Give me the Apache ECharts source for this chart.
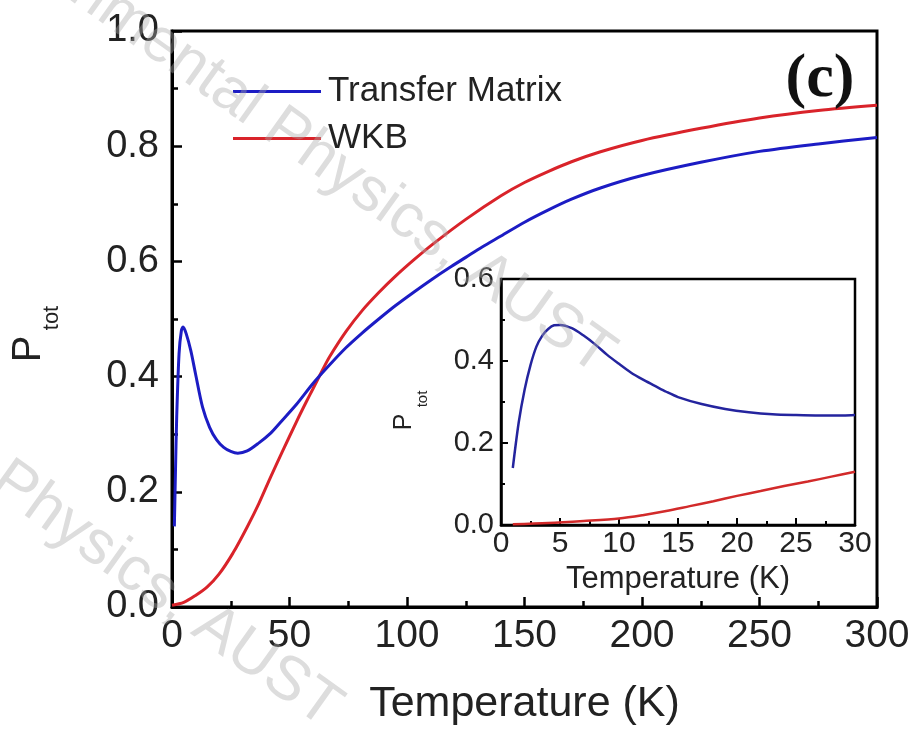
<!DOCTYPE html>
<html>
<head>
<meta charset="utf-8">
<script src="https://cdn.jsdelivr.net/npm/echarts@6/dist/echarts.min.js"></script>
<style>
    html, body { margin: 0; padding: 0; background: #fff; }
    #chart { width: 914px; height: 734px; }
</style>
</head>
<body>
<div id="chart"></div>
<script>
    // main panel, 0 - 300 K
    const tmMainT = [1, 1.5, 2, 3, 4, 4.7, 6, 8, 10, 13, 16, 19, 22, 25, 28, 32, 37, 42, 46, 53, 60, 67, 74, 81, 88, 95, 103, 111, 118, 125, 132, 140, 150, 160, 170, 182, 200, 225, 250, 275, 300];
    const tmMainP = [0.14, 0.24, 0.33, 0.44, 0.48, 0.486, 0.475, 0.445, 0.405, 0.347, 0.312, 0.29, 0.277, 0.27, 0.267, 0.271, 0.285, 0.302, 0.32, 0.352, 0.388, 0.42, 0.45, 0.476, 0.5, 0.523, 0.547, 0.57, 0.589, 0.607, 0.625, 0.644, 0.668, 0.689, 0.708, 0.727, 0.749, 0.772, 0.791, 0.804, 0.815];
    const wkbMainT = [0, 5, 10, 15, 20, 26, 32, 37, 42, 47, 53, 57, 60, 64, 67, 74, 81, 88, 95, 103, 111, 125, 140, 150, 160, 170, 182, 200, 225, 250, 275, 300];
    const wkbMainP = [0.003, 0.008, 0.02, 0.035, 0.057, 0.094, 0.139, 0.18, 0.226, 0.27, 0.322, 0.355, 0.379, 0.411, 0.434, 0.478, 0.515, 0.546, 0.574, 0.603, 0.63, 0.673, 0.714, 0.737, 0.756, 0.773, 0.79, 0.81, 0.831, 0.849, 0.862, 0.871];

    // inset, 0 - 30 K
    const tmInsetT = [1, 1.5, 2, 2.5, 3, 3.5, 4, 4.5, 5, 6, 7, 8, 9, 10, 11, 12, 13, 14, 15, 17, 19, 21, 23, 25, 27, 29, 30];
    const tmInsetP = [0.139, 0.25, 0.33, 0.39, 0.435, 0.462, 0.478, 0.487, 0.488, 0.48, 0.462, 0.44, 0.415, 0.393, 0.372, 0.355, 0.34, 0.325, 0.312, 0.295, 0.283, 0.275, 0.27, 0.268, 0.267, 0.267, 0.268];
    const wkbInsetT = [1, 4, 7, 10, 12, 14, 16, 18, 20, 22, 24, 26, 28, 30];
    const wkbInsetP = [0.002, 0.005, 0.01, 0.016, 0.024, 0.034, 0.046, 0.058, 0.071, 0.083, 0.095, 0.106, 0.118, 0.13];

    const legendNames = ['Transfer Matrix', 'WKB'];

    const FONT = '"Liberation Sans", Arial, sans-serif';
    const BLUE = '#1c1cc4';
    const RED = '#d9232a';
    const MARK = 'rgba(170,170,170,0.4)';

    const zip = (xs, ys) => xs.map((x, i) => [x, ys[i]]);

    const chart = echarts.init(document.getElementById('chart'));

    const axisCommon = (lw, len, minorLen) => ({
        axisLine: { show: true, onZero: false, lineStyle: { color: '#000', width: lw } },
        axisTick: { show: true, inside: true, length: len, lineStyle: { color: '#000', width: lw - 0.5 } },
        minorTick: { show: true, splitNumber: 2, length: minorLen, lineStyle: { color: '#000', width: lw - 0.5 } },
        splitLine: { show: false }
    });

    const lineSeries = (name, xi, xs, ys, color, width, z) => ({
        name: name, type: 'line', xAxisIndex: xi, yAxisIndex: xi,
        data: zip(xs, ys), symbol: 'none', smooth: 0.3,
        lineStyle: { color: color, width: width }, itemStyle: { color: color }, z: z
    });

    const option = {
        animation: false,
        backgroundColor: '#fff',
        grid: [
            { left: 172, top: 31, width: 705, height: 576, show: true, borderColor: '#000', borderWidth: 3, backgroundColor: 'transparent' },
            { left: 501, top: 279, width: 354, height: 246, show: true, borderColor: '#000', borderWidth: 2.5, backgroundColor: '#fff' }
        ],
        legend: {
            data: legendNames,
            orient: 'vertical',
            left: 228,
            top: 69,
            icon: 'rect',
            itemWidth: 88,
            itemHeight: 3,
            itemGap: 12,
            textStyle: { fontFamily: FONT, fontSize: 35, color: '#222', padding: [0, 0, 0, 2] }
        },
        xAxis: [
            Object.assign({
                gridIndex: 0, type: 'value', min: 0, max: 300, interval: 50,
                name: 'Temperature (K)', nameLocation: 'middle', nameGap: 76,
                nameTextStyle: { fontFamily: FONT, fontSize: 43, color: '#222' },
                axisLabel: { fontFamily: FONT, fontSize: 39, color: '#222', margin: 10 }
            }, axisCommon(3, 10, 6)),
            Object.assign({
                gridIndex: 1, type: 'value', min: 0, max: 30, interval: 5,
                name: 'Temperature (K)', nameLocation: 'middle', nameGap: 39,
                nameTextStyle: { fontFamily: FONT, fontSize: 31, color: '#222' },
                axisLabel: { fontFamily: FONT, fontSize: 30, color: '#222', margin: 4 }
            }, axisCommon(2.5, 7, 4))
        ],
        yAxis: [
            Object.assign({
                gridIndex: 0, type: 'value', min: 0, max: 1, interval: 0.2,
                axisLabel: { fontFamily: FONT, fontSize: 38, color: '#222', margin: 13, formatter: v => v.toFixed(1) }
            }, axisCommon(3, 10, 6)),
            Object.assign({
                gridIndex: 1, type: 'value', min: 0, max: 0.6, interval: 0.2,
                axisLabel: { fontFamily: FONT, fontSize: 29, color: '#222', margin: 7, formatter: v => v.toFixed(1) }
            }, axisCommon(2.5, 7, 4))
        ],
        series: [
            lineSeries(legendNames[1], 0, wkbMainT, wkbMainP, RED, 3, 3),
            lineSeries(legendNames[0], 0, tmMainT, tmMainP, BLUE, 3, 4),
            lineSeries(legendNames[1], 1, wkbInsetT, wkbInsetP, '#d22a2a', 2.5, 5),
            lineSeries(legendNames[0], 1, tmInsetT, tmInsetP, '#24249e', 2.5, 5)
        ],
        graphic: [
            // main y-axis title P_tot
            { type: 'text', x: 29, y: 349, rotation: Math.PI / 2, z: 10,
              style: { text: 'P', font: '40px ' + FONT, fill: '#222', textAlign: 'center', textVerticalAlign: 'middle' } },
            { type: 'text', x: 52, y: 318, rotation: Math.PI / 2, z: 10,
              style: { text: 'tot', font: '22px ' + FONT, fill: '#222', textAlign: 'center', textVerticalAlign: 'middle' } },
            // inset y-axis title P_tot
            { type: 'text', x: 404, y: 422, rotation: Math.PI / 2, z: 10,
              style: { text: 'P', font: '25px ' + FONT, fill: '#222', textAlign: 'center', textVerticalAlign: 'middle' } },
            { type: 'text', x: 423, y: 399, rotation: Math.PI / 2, z: 10,
              style: { text: 'tot', font: '15px ' + FONT, fill: '#222', textAlign: 'center', textVerticalAlign: 'middle' } },
            // panel label
            { type: 'text', x: 820, y: 80, z: 10,
              style: { text: '(c)', font: 'bold 62px "Liberation Serif", "Times New Roman", serif', fill: '#111', textAlign: 'center', textVerticalAlign: 'middle' } },
            // watermarks
            { type: 'text', x: 607, y: 362, rotation: -35.5 * Math.PI / 180, z: 20,
              style: { text: 'Experimental Physics, AUST', font: '62px ' + FONT, fill: MARK, textAlign: 'right', textVerticalAlign: 'middle' } },
            { type: 'text', x: 334, y: 715, rotation: -35.5 * Math.PI / 180, z: 20,
              style: { text: 'Experimental Physics, AUST', font: '62px ' + FONT, fill: MARK, textAlign: 'right', textVerticalAlign: 'middle' } }
        ]
    };

    chart.setOption(option);
</script>
</body>
</html>
